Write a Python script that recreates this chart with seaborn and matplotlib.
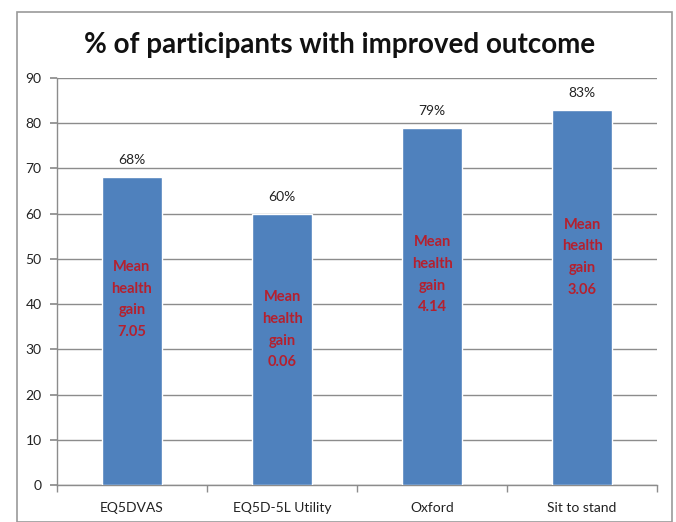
import matplotlib
matplotlib.use("Agg")
import matplotlib.pyplot as plt
import seaborn as sns
import pandas as pd
from matplotlib.patches import Rectangle

categories = ["EQ5DVAS", "EQ5D-5L Utility", "Oxford", "Sit to stand"]
pct_improved = [68, 60, 79, 83]
mean_gain = ["7.05", "0.06", "4.14", "3.06"]
y_ticks = [0, 10, 20, 30, 40, 50, 60, 70, 80, 90]
title = "% of participants with improved outcome"

# layout: vertical centre (data units) of the in-bar annotation
gain_label_center = [41, 34.3, 46.5, 50.4]

sns.set_theme(style="white")
plt.rcParams["font.family"] = ["Lato", "DejaVu Sans"]

fig = plt.figure(figsize=(6.76, 5.22), dpi=100)
ax = fig.add_axes([0.0843, 0.0709, 0.972 - 0.0843, 0.8506 - 0.0709])

df = pd.DataFrame({"cat": categories, "pct": pct_improved})
sns.barplot(data=df, x="cat", y="pct", color="#4F81BD", saturation=1,
            width=0.4, ax=ax, zorder=3)

ax.set_ylim(0, 90)
ax.set_xlim(-0.5, len(categories) - 0.5)
ax.set_yticks(y_ticks)
ax.yaxis.grid(True, color="#8C8C8C", linewidth=1.0, zorder=0)
ax.set_axisbelow(True)
ax.set_xlabel("")
ax.set_ylabel("")

for s in ["top", "right"]:
    ax.spines[s].set_visible(False)
for s in ["left", "bottom"]:
    ax.spines[s].set_color("#8C8C8C")
    ax.spines[s].set_linewidth(1.0)

ax.tick_params(axis="y", which="major", length=5, color="#8C8C8C",
               direction="out", left=True, labelsize=10, labelcolor="#222222", pad=6)
ax.tick_params(axis="x", which="major", length=0, labelsize=10,
               labelcolor="#222222", pad=12)
ax.set_xticks([i + 0.5 for i in range(-1, len(categories))], minor=True)
ax.tick_params(axis="x", which="minor", length=5, color="#8C8C8C",
               direction="out", bottom=True)

cont = ax.containers[0]
ax.bar_label(cont, labels=[f"{v}%" for v in pct_improved], padding=8,
             fontsize=10, color="#222222")

for i, (g, yc) in enumerate(zip(mean_gain, gain_label_center)):
    ax.text(i, yc, f"Mean\nhealth\ngain\n{g}", ha="center", va="center",
            fontsize=10.5, fontweight="bold", color="#B5202E",
            linespacing=1.7, zorder=5)

fig.text(0.503, 0.914, title, ha="center", va="center", fontsize=20,
         fontweight="bold", color="#111111")

fig.patches.append(Rectangle((17 / 676, 0.0), (672 - 17) / 676, 1 - 12 / 522,
                             transform=fig.transFigure, fill=False,
                             edgecolor="#9A9A9A", linewidth=1.2))

fig.savefig("out.png", dpi=100)
